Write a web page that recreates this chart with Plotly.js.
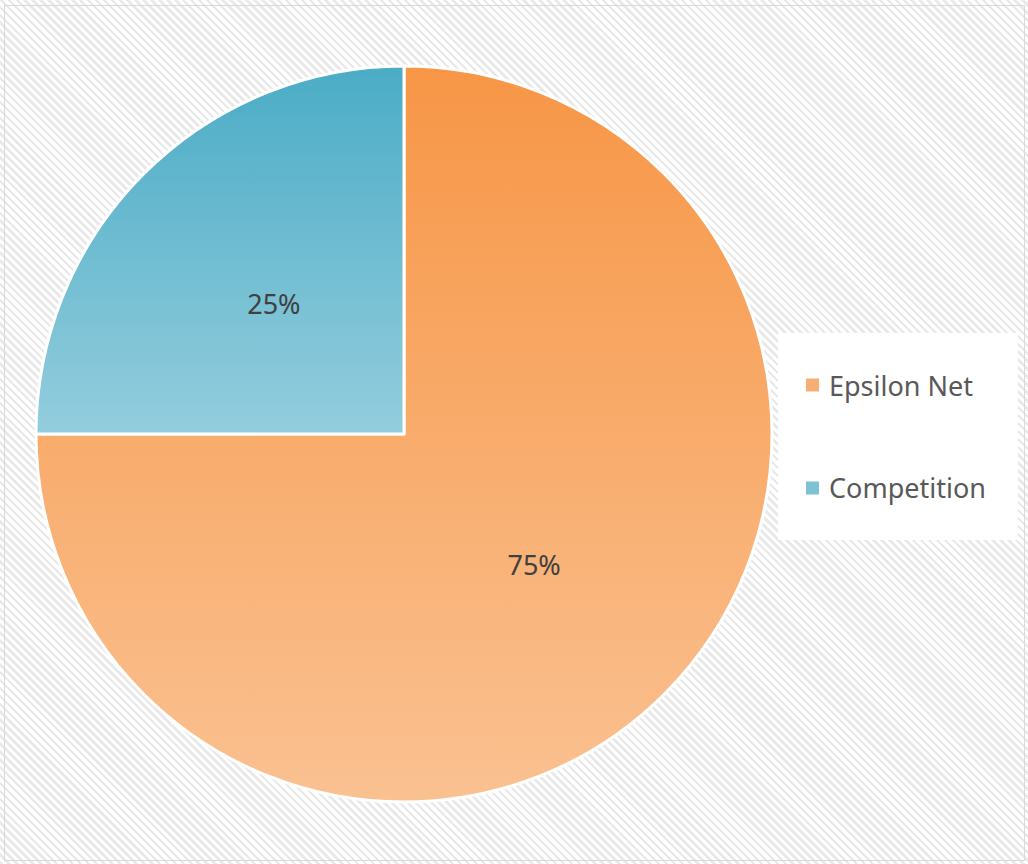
<!DOCTYPE html>
<html>
<head>
<meta charset="utf-8">
<script src="https://cdn.plot.ly/plotly-3.0.1.min.js"></script>
<style>
  html, body { margin: 0; padding: 0; background: #fff; }
  #wrap {
    position: relative; width: 1028px; height: 864px; overflow: hidden;
    background: repeating-linear-gradient(45deg, #e9e9e9 0px, #e9e9e9 2.5px, #ffffff 2.5px, #ffffff 5.6px);
  }
  #frame {
    position: absolute; left: 4px; top: 5px; width: 1021px; height: 856px;
    border: 1.5px solid #d9d9d9; box-sizing: border-box; pointer-events: none;
  }
  #chart { position: absolute; left: 0; top: 0; width: 1028px; height: 864px; }
</style>
</head>
<body>
<div id="wrap">
  <div id="chart"></div>
  <div id="frame"></div>
</div>
<script>
const categories = ["Epsilon Net", "Competition"];
const values = [75, 25];
const sliceColors = ["#F8AE72", "#7EC1D4"];
const gradTop = ["#F79646", "#4BACC6"];
const gradBottom = ["#FAC191", "#93CDDD"];

const W = 1028, H = 864;
const FONT = "Noto Sans, Open Sans, sans-serif";
const trace = {
  type: "pie",
  labels: categories,
  values: values,
  sort: false,
  direction: "clockwise",
  rotation: 0,
  textinfo: "percent",
  textposition: "inside",
  insidetextorientation: "horizontal",
  texttemplate: "%{percent:.0%}",
  textfont: { family: FONT, size: 27, color: "#404040" },
  marker: { colors: sliceColors, line: { color: "#ffffff", width: 3 } },
  domain: { x: [36 / W, 772 / W], y: [1 - 802 / H, 1 - 66 / H] },
  showlegend: false,
  hoverinfo: "label+percent"
};

// legend built from categories
const legendX0 = 778, legendX1 = 1018, legendY0 = 333, legendY1 = 540;
const itemY = [385, 488];
const shapes = [{
  type: "rect", xref: "paper", yref: "paper",
  x0: legendX0 / W, x1: legendX1 / W, y0: 1 - legendY1 / H, y1: 1 - legendY0 / H,
  fillcolor: "#ffffff", line: { width: 0 }, layer: "below"
}];
const annotations = [];
categories.forEach((c, i) => {
  shapes.push({
    type: "rect", xref: "paper", yref: "paper",
    x0: 806 / W, x1: 819 / W, y0: 1 - (itemY[i] + 6.5) / H, y1: 1 - (itemY[i] - 6.5) / H,
    fillcolor: sliceColors[i], line: { width: 0 }
  });
  annotations.push({
    xref: "paper", yref: "paper", x: 827 / W, y: 1 - itemY[i] / H,
    xanchor: "left", yanchor: "middle", showarrow: false, text: c,
    font: { family: FONT, size: 27, color: "#595959" }
  });
});

const layout = {
  width: W, height: H,
  margin: { l: 0, r: 0, t: 0, b: 0 },
  paper_bgcolor: "rgba(0,0,0,0)",
  plot_bgcolor: "rgba(0,0,0,0)",
  showlegend: false,
  shapes: shapes,
  annotations: annotations
};

const gd = document.getElementById("chart");
Plotly.newPlot(gd, [trace], layout, { displayModeBar: false, staticPlot: true }).then(() => {
  const svg = gd.querySelector(".main-svg");
  const ns = "http://www.w3.org/2000/svg";
  let defs = svg.querySelector("defs");
  if (!defs) { defs = document.createElementNS(ns, "defs"); svg.insertBefore(defs, svg.firstChild); }
  categories.forEach((c, i) => {
    const g = document.createElementNS(ns, "linearGradient");
    g.setAttribute("id", "grad" + i);
    g.setAttribute("x1", "0"); g.setAttribute("y1", "0");
    g.setAttribute("x2", "0"); g.setAttribute("y2", "1");
    const s1 = document.createElementNS(ns, "stop");
    s1.setAttribute("offset", "0"); s1.setAttribute("stop-color", gradTop[i]);
    const s2 = document.createElementNS(ns, "stop");
    s2.setAttribute("offset", "1"); s2.setAttribute("stop-color", gradBottom[i]);
    g.appendChild(s1); g.appendChild(s2);
    defs.appendChild(g);
  });
  const slices = gd.querySelectorAll(".pielayer g.slice");
  const cd = gd.calcdata[0];
  const cx = cd[0].cx, cy = cd[0].cy;
  const svgRect = svg.getBoundingClientRect();
  slices.forEach((s, i) => {
    const p = s.querySelector("path.surface");
    if (p) p.style.fill = "url(#grad" + i + ")";
    // place label at half radius along the slice mid-angle
    const t = s.querySelector("text.slicetext");
    const pt = cd[i];
    if (t && pt && pt.pxmid) {
      const tx = cx + 0.5 * pt.pxmid[0], ty = cy + 0.5 * pt.pxmid[1];
      const b = t.getBoundingClientRect();
      const curX = b.left + b.width / 2 - svgRect.left;
      const curY = b.top + b.height / 2 - svgRect.top;
      const dx = tx - curX, dy = ty - curY;
      const tr = t.getAttribute("transform") || "";
      t.setAttribute("transform", "translate(" + dx + "," + dy + ") " + tr);
    }
  });
});
</script>
</body>
</html>
